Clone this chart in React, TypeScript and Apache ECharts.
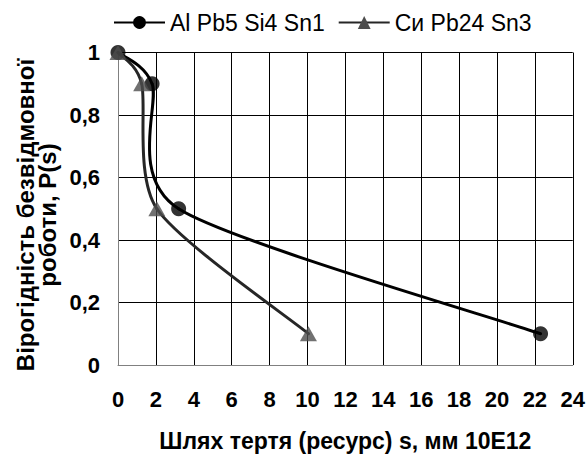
import React, { useEffect, useRef } from "react";
import * as echarts from "echarts";

const alX = [0, 1.8, 3.2, 22.3];
const alY = [1, 0.9, 0.5, 0.1];
const cuX = [0, 1.25, 2.05, 10.05];
const cuY = [1, 0.9, 0.5, 0.1];
const seriesNames = ["Al Pb5 Si4 Sn1", "Си Pb24 Sn3"];
const yTickValues = [0, 0.2, 0.4, 0.6, 0.8, 1];
const yTickLabels = ["0", "0,2", "0,4", "0,6", "0,8", "1"];
const xAxisTitle = "Шлях тертя (ресурс) s, мм 10E12";
const yAxisTitle = "Вірогідність безвідмовної\nроботи, P(s)";

const FONT = "'Liberation Sans', Arial, sans-serif";
const AL_COLOR = "#000000";
const CU_LINE = "#262626";
const CU_MARK = "#4d4d4d";

// smooth curve through the data points (spreadsheet-like smoothed line)
function curveSeries(xs: number[], ys: number[], color: string) {
  const n = xs.length;
  return {
    type: "custom",
    coordinateSystem: "cartesian2d",
    data: xs.map((x, i) => [x, ys[i]]),
    clip: false,
    silent: true,
    z: 1,
    renderItem: (params: any, api: any) => {
      const i = params.dataIndex;
      if (i >= n - 1) return { type: "group", children: [] };
      const P = (k: number) => {
        const j = Math.max(0, Math.min(n - 1, k));
        return api.coord([xs[j], ys[j]]);
      };
      const p0 = P(i - 1);
      const p1 = P(i);
      const p2 = P(i + 1);
      const p3 = P(i + 2);
      const t = 0.13;
      return {
        type: "bezierCurve",
        shape: {
          x1: p1[0],
          y1: p1[1],
          cpx1: p1[0] + (p2[0] - p0[0]) * t,
          cpy1: p1[1] + (p2[1] - p0[1]) * t,
          cpx2: p2[0] - (p3[0] - p1[0]) * t,
          cpy2: p2[1] - (p3[1] - p1[1]) * t,
          x2: p2[0],
          y2: p2[1],
        },
        style: { stroke: color, lineWidth: 3, fill: null, lineCap: "round" },
      };
    },
  };
}

export default function App() {
  const ref = useRef<HTMLDivElement>(null);
  useEffect(() => {
    if (!ref.current) return;
    const chart = echarts.init(ref.current, undefined, { renderer: "svg" });
    const alData = alX.map((x, i) => [x, alY[i]]);
    const cuData = cuX.map((x, i) => [x, cuY[i]]);
    chart.setOption({
      animation: false,
      backgroundColor: "#ffffff",
      textStyle: { fontFamily: FONT },
      legend: {
        top: 6,
        left: 108,
        itemWidth: 51,
        itemHeight: 16,
        itemGap: 13,
        textStyle: { fontSize: 23, color: "#000", fontFamily: FONT },
        data: seriesNames,
      },
      graphic: [
        {
          type: "text",
          x: 36,
          y: 215,
          rotation: Math.PI / 2,
          style: {
            text: yAxisTitle,
            font: "bold 24px 'Liberation Sans', Arial, sans-serif",
            fill: "#000",
            align: "center",
            verticalAlign: "middle",
            lineHeight: 22,
          },
        },
      ],
      grid: { left: 118, right: 14, top: 52.5, bottom: 89 },
      xAxis: {
        type: "value",
        min: 0,
        max: 24,
        interval: 2,
        name: xAxisTitle,
        nameLocation: "middle",
        nameGap: 64,
        nameTextStyle: { fontSize: 23, fontWeight: "bold", color: "#000", fontFamily: FONT },
        axisLine: { show: true, lineStyle: { color: "#808080", width: 1 } },
        axisTick: { show: false },
        axisLabel: { margin: 23, fontSize: 22, fontWeight: "bold", color: "#000", fontFamily: FONT },
        splitLine: { show: true, lineStyle: { color: "#000", width: 1 } },
      },
      yAxis: {
        type: "value",
        min: 0,
        max: 1,
        interval: 0.2,
        axisLine: { show: true, lineStyle: { color: "#808080", width: 1 } },
        axisTick: { show: false },
        axisLabel: {
          margin: 18,
          fontSize: 22,
          fontWeight: "bold",
          color: "#000",
          fontFamily: FONT,
          formatter: (v: number) => {
            const idx = yTickValues.findIndex((t) => Math.abs(t - v) < 1e-6);
            return idx >= 0 ? yTickLabels[idx] : String(v);
          },
        },
        splitLine: { show: true, lineStyle: { color: "#000", width: 1 } },
      },
      series: [
        // legend entries
        {
          name: seriesNames[0],
          type: "line",
          data: [],
          symbol: "circle",
          symbolSize: 12,
          itemStyle: { color: AL_COLOR },
          lineStyle: { color: AL_COLOR, width: 3 },
        },
        {
          name: seriesNames[1],
          type: "line",
          data: [],
          symbol: "triangle",
          symbolSize: [17, 14],
          itemStyle: { color: CU_MARK },
          lineStyle: { color: CU_LINE, width: 3 },
        },
        curveSeries(alX, alY, AL_COLOR),
        curveSeries(cuX, cuY, CU_LINE),
        {
          type: "scatter",
          data: alData,
          clip: false,
          symbol: "circle",
          symbolSize: 15,
          itemStyle: { color: AL_COLOR },
          z: 3,
        },
        {
          type: "scatter",
          data: cuData,
          clip: false,
          symbol: "triangle",
          symbolSize: [17, 15],
          itemStyle: { color: CU_MARK },
          z: 4,
        },
      ],
    });
    return () => chart.dispose();
  }, []);
  return (
    <div
      ref={ref}
      style={{ position: "fixed", left: 0, top: 0, width: 588, height: 457, background: "#fff" }}
    />
  );
}
